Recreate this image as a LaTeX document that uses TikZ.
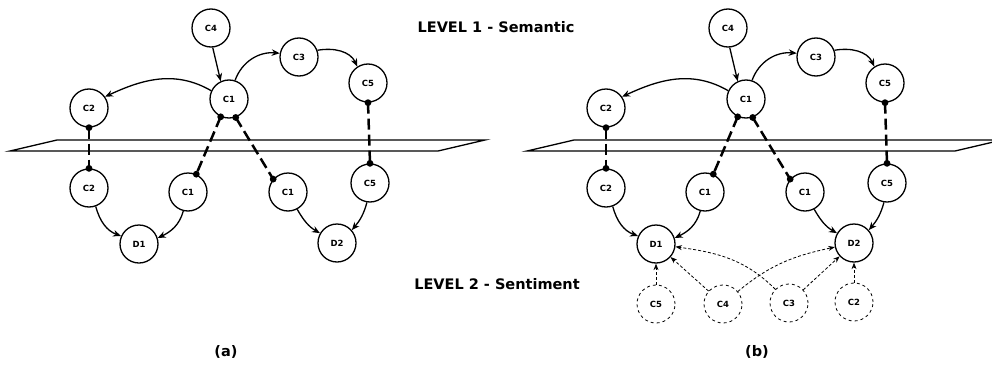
\documentclass[tikz,border=0pt]{standalone}
\usepackage{fontspec}
\setmainfont{DejaVu Sans}
\usetikzlibrary{arrows.meta}
\tikzset{
  cnode/.style={circle,draw,line width=1.3pt,minimum size=38pt,inner sep=0pt,font=\fontsize{8.5}{9}\selectfont\bfseries},
  snode/.style={cnode,dashed,line width=0.8pt},
  crossing/.style={line width=2.5pt,dash pattern=on 11pt off 5pt},
  dep/.style={-{Stealth[length=8pt,width=6.5pt]},line width=1.3pt},
  sdep/.style={-{Stealth[length=6.5pt,width=5pt]},line width=0.8pt,dash pattern=on 3pt off 2pt},
  levellabel/.style={font=\fontsize{14.5}{16}\selectfont\bfseries},
}
\begin{document}
\begin{tikzpicture}[x=1pt,y=-1pt]
		\useasboundingbox (0,0) rectangle (992,364);
		
		% Both panels share the two levels
		\foreach \pn/\dx in {a/0,b/517}{
		\begin{scope}[xshift=\dx pt, name prefix=\pn-]
			% Plane between the levels
			\draw[line width=1.3pt] (57,140) -- (485,140) -- (438,151) -- (10,151) -- cycle;
			
			% Level 1 concepts
			\node[cnode] (C4) at (211,28) {C4};
			\node[cnode] (C1) at (229,99) {C1};
			\node[cnode] (C3) at (299,57) {C3};
			\node[cnode] (C5) at (368,83) {C5};
			\node[cnode] (C2) at (89,108) {C2};
			\draw[dep] (C4.-85) -- (C1.115);
			\draw[dep] (C1.155) to[out=150,in=25] (C2.35);
			\draw[dep] (C1.72) to[out=70,in=175] (C3.169);
			\draw[dep] (C3.20) to[out=10,in=115] (C5.123);
			
			% Level 2 concepts and documents
			\node[cnode] (lC2) at (89,188) {C2};
			\node[cnode] (lC1a) at (188,192) {C1};
			\node[cnode] (lC1b) at (288,192) {C1};
			\node[cnode] (lC5) at (370,183) {C5};
			\node[cnode] (D1) at (139,244) {D1};
			\node[cnode] (D2) at (337,243) {D2};
			\draw[dep] (lC2.-70) to[out=-75,in=160] (D1.156);
			\draw[dep] (lC1a.256) to[out=-105,in=25] (D1.18);
			\draw[dep] (lC1b.-62) to[out=-60,in=150] (D2.150);
			\draw[dep] (lC5.261) to[out=-105,in=50] (D2.41);
			
			% Links through the plane
			\draw[crossing] (C2.south) -- (lC2.north);
			\draw[crossing] (C1.245) -- (lC1a.65);
			\draw[crossing] (C1.290) -- (lC1b.139);
			\draw[crossing] (C5.south) -- (lC5.north);
			\foreach \p in {C2.south,lC2.north,C1.245,lC1a.65,C1.290,lC1b.139,C5.south,lC5.north}
				\fill (\p) circle (3.4pt);
		\end{scope}
		}
		
		% Sentiment concepts (panel b only)
		\begin{scope}[xshift=517pt]
			\node[snode] (S5) at (139,304) {C5};
			\node[snode] (S4) at (206,304) {C4};
			\node[snode] (S3) at (272,303) {C3};
			\node[snode] (S2) at (337,302) {C2};
		\end{scope}
		\draw[sdep] (S5) -- (b-D1);
		\draw[sdep] (S4) -- (b-D1);
		\draw[sdep] (S4) to[out=40,in=192] (b-D2);
		\draw[sdep] (S3) to[out=135,in=-8] (b-D1);
		\draw[sdep] (S3) -- (b-D2);
		\draw[sdep] (S2) -- (b-D2);
		
		% Level names and captions
		\node[levellabel] (lev1) at (496,27) {LEVEL 1 - Semantic};
		\node[levellabel] (lev2) at (497,284) {LEVEL 2 - Sentiment};
		\node[levellabel] (capa) at (226,352) {(a)};
		\node[levellabel] (capb) at (757,352) {(b)};
	\end{tikzpicture}
\end{document}
